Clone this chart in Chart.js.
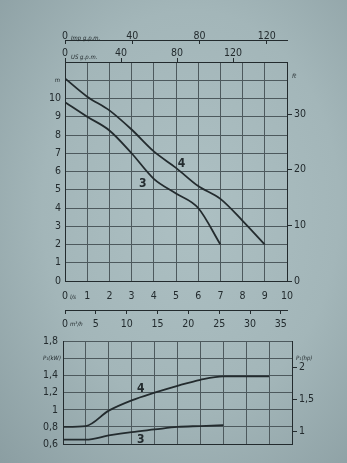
<!DOCTYPE html>
<html>
<head>
<meta charset="utf-8">
<script src="https://cdn.jsdelivr.net/npm/chart.js@4.4.1/dist/chart.umd.min.js"></script>
<style>
  html, body { margin: 0; padding: 0; }
  body {
    width: 347px; height: 463px; overflow: hidden; position: relative;
    background: radial-gradient(ellipse at 55% 45%, #adc0c3 0%, #a3b6b9 55%, #8b9ea2 100%);
  }
  canvas { position: absolute; left: 0; }
  #headChart { top: 0; }
  #powerChart { top: 330px; }
</style>
</head>
<body>
<canvas id="headChart" width="347" height="340"></canvas>
<canvas id="powerChart" width="347" height="133"></canvas>
<script>
// Curve data (flow in l/s)
const flow4 = [0, 1, 2, 3, 4, 5, 6, 7, 8, 9];
const flow3 = [0, 1, 2, 3, 4, 5, 6, 7];
const head4 = [11.1, 10.1, 9.35, 8.3, 7.1, 6.2, 5.2, 4.5, 3.3, 2.0];   // m
const head3 = [9.8, 9.0, 8.25, 7.0, 5.6, 4.8, 4.0, 2.0];               // m
const power4 = [0.80, 0.81, 0.99, 1.11, 1.20, 1.28, 1.35, 1.39, 1.39, 1.39]; // kW
const power3 = [0.65, 0.65, 0.70, 0.74, 0.77, 0.80, 0.81, 0.82];             // kW

// Axis ticks
const flowTicks = [0, 1, 2, 3, 4, 5, 6, 7, 8, 9, 10];
const usTicks = [0, 40, 80, 120];
const impTicks = [0, 40, 80, 120];
const m3hTicks = [0, 5, 10, 15, 20, 25, 30, 35];
const headTicks = [0, 1, 2, 3, 4, 5, 6, 7, 8, 9, 10, 11, 12];
const headLabels = ['0', '1', '2', '3', '4', '5', '6', '7', '8', '9', '10', '', ''];
const ftTicks = [0, 10, 20, 30];
const kwTicks = [0.6, 0.8, 1, 1.2, 1.4, 1.6, 1.8];
const kwLabels = ['0,6', '0,8', '1', '1,2', '1,4', '', '1,8'];
const hpTicks = [1, 1.5, 2];
const hpLabels = ['1', '1,5', '2'];

// unit conversions from l/s, m, kW
const US_GPM = 15.8503, IMP_GPM = 13.1982, M3H = 3.6, FT = 3.28084, HP = 0.7457;

const ink = '#232b2e';
const gridInk = '#4d595d';
const fam = "'DejaVu Sans Condensed', 'Liberation Sans Narrow', 'DejaVu Sans', sans-serif";
const tickFont = { family: fam, size: 10.5 };

function points(xs, ys) { return xs.map((x, i) => ({ x: x, y: ys[i] })); }
function fixSize(w, h) {
  return axis => { if (w != null) axis.width = w; if (h != null) axis.height = h; };
}
function setTicks(values) {
  return axis => { axis.ticks = values.map(v => ({ value: v })); };
}
function curve(data) {
  return {
    data: data, borderColor: ink, borderWidth: 1.8, pointRadius: 0,
    cubicInterpolationMode: 'monotone', fill: false
  };
}

// small texts: units and curve numbers
const notes = {
  id: 'notes',
  afterDraw(chart, args, opts) {
    const ctx = chart.ctx;
    ctx.save();
    ctx.fillStyle = ink;
    ctx.textBaseline = 'middle';
    opts.items.forEach(t => {
      ctx.font = t.font;
      ctx.textAlign = t.align || 'left';
      const x = t.sx ? chart.scales[t.sx].getPixelForValue(t.x) : t.x;
      const y = t.sy ? chart.scales[t.sy].getPixelForValue(t.y) : t.y;
      ctx.fillText(t.text, x, y);
    });
    ctx.restore();
  }
};

const unitFont = 'italic 6px ' + fam;
const numFont = 'bold 12px ' + fam;

new Chart(document.getElementById('headChart'), {
  type: 'line',
  data: { datasets: [curve(points(flow4, head4)), curve(points(flow3, head3))] },
  plugins: [notes],
  options: {
    responsive: false, animation: false,
    layout: { padding: 0 },
    plugins: {
      legend: { display: false }, tooltip: { enabled: false },
      notes: { items: [
        { text: 'Imp g.p.m.', x: 71, y: 38, font: unitFont },
        { text: 'US g.p.m.', x: 71, y: 57, font: unitFont },
        { text: 'm', x: 60, sy: 'y', y: 11, font: unitFont, align: 'right' },
        { text: 'ft', x: 292, y: 76, font: unitFont },
        { text: 'l/s', x: 70, y: 297, font: unitFont },
        { text: 'm³/h', x: 70, y: 324, font: unitFont },
        { text: '4', sx: 'x', x: 5.25, sy: 'y', y: 6.4, font: numFont, align: 'center' },
        { text: '3', sx: 'x', x: 3.5, sy: 'y', y: 5.3, font: numFont, align: 'center' }
      ] }
    },
    scales: {
      x: {
        type: 'linear', position: 'bottom', weight: 0, min: 0, max: 10,
        afterBuildTicks: setTicks(flowTicks), afterFit: fixSize(null, 29),
        grid: { color: gridInk, drawTicks: false },
        border: { color: ink },
        ticks: { color: ink, font: tickFont, padding: 9, autoSkip: false, maxRotation: 0 }
      },
      xm3: {
        type: 'linear', position: 'bottom', weight: 1, min: 0, max: 10 * M3H,
        afterBuildTicks: setTicks(m3hTicks), afterFit: fixSize(null, 30),
        grid: { drawOnChartArea: false, color: ink, tickLength: 4 },
        border: { color: ink },
        ticks: { color: ink, font: tickFont, padding: 4, autoSkip: false, maxRotation: 0 }
      },
      xus: {
        type: 'linear', position: 'top', weight: 1, min: 0, max: 10 * US_GPM,
        afterBuildTicks: setTicks(usTicks), afterFit: fixSize(null, 22),
        grid: { drawOnChartArea: false, color: ink, tickLength: 4 },
        border: { color: ink },
        ticks: { color: ink, font: tickFont, padding: -2, autoSkip: false, maxRotation: 0 }
      },
      ximp: {
        type: 'linear', position: 'top', weight: 2, min: 0, max: 10 * IMP_GPM,
        afterBuildTicks: setTicks(impTicks), afterFit: fixSize(null, 40),
        grid: { drawOnChartArea: false, color: ink, tickLength: -4 },
        border: { color: ink },
        ticks: { color: ink, font: tickFont, padding: 1, autoSkip: false, maxRotation: 0 }
      },
      y: {
        type: 'linear', position: 'left', min: 0, max: 12,
        afterBuildTicks: setTicks(headTicks), afterFit: fixSize(65, null),
        grid: { color: gridInk, drawTicks: false },
        border: { color: ink },
        ticks: { color: ink, font: tickFont, padding: 4, autoSkip: false,
                 callback: (v, i) => headLabels[i] }
      },
      yft: {
        type: 'linear', position: 'right', min: 0, max: 12 * FT,
        afterBuildTicks: setTicks(ftTicks), afterFit: fixSize(60, null),
        grid: { drawOnChartArea: false, color: ink, tickLength: 5 },
        border: { color: ink },
        ticks: { color: ink, font: tickFont, padding: 2, autoSkip: false }
      }
    }
  }
});

new Chart(document.getElementById('powerChart'), {
  type: 'line',
  data: { datasets: [curve(points(flow4, power4)), curve(points(flow3, power3))] },
  plugins: [notes],
  options: {
    responsive: false, animation: false,
    layout: { padding: { top: 7, left: 0, right: 0, bottom: 0 } },
    plugins: {
      legend: { display: false }, tooltip: { enabled: false },
      notes: { items: [
        { text: 'P₁(kW)', x: 61, sy: 'y', y: 1.6, font: unitFont, align: 'right' },
        { text: 'P₁(hp)', x: 296, sy: 'y', y: 1.6, font: unitFont },
        { text: '4', sx: 'x', x: 3.4, sy: 'y', y: 1.24, font: numFont, align: 'center' },
        { text: '3', sx: 'x', x: 3.4, sy: 'y', y: 0.645, font: numFont, align: 'center' }
      ] }
    },
    scales: {
      x: {
        type: 'linear', position: 'bottom', min: 0, max: 10,
        afterBuildTicks: setTicks(flowTicks), afterFit: fixSize(null, 19),
        grid: { color: gridInk, drawTicks: false },
        border: { color: ink },
        ticks: { display: false }
      },
      y: {
        type: 'linear', position: 'left', min: 0.6, max: 1.8,
        afterBuildTicks: setTicks(kwTicks), afterFit: fixSize(63, null),
        grid: { color: gridInk, drawTicks: false },
        border: { color: ink },
        ticks: { color: ink, font: tickFont, padding: 5, autoSkip: false,
                 callback: (v, i) => kwLabels[i] }
      },
      yhp: {
        type: 'linear', position: 'right', min: 0.6 / HP, max: 1.8 / HP,
        afterBuildTicks: setTicks(hpTicks), afterFit: fixSize(55, null),
        grid: { drawOnChartArea: false, color: ink, tickLength: 5 },
        border: { color: ink },
        ticks: { color: ink, font: tickFont, padding: 2, autoSkip: false,
                 callback: (v, i) => hpLabels[i] }
      }
    }
  }
});
</script>
</body>
</html>
